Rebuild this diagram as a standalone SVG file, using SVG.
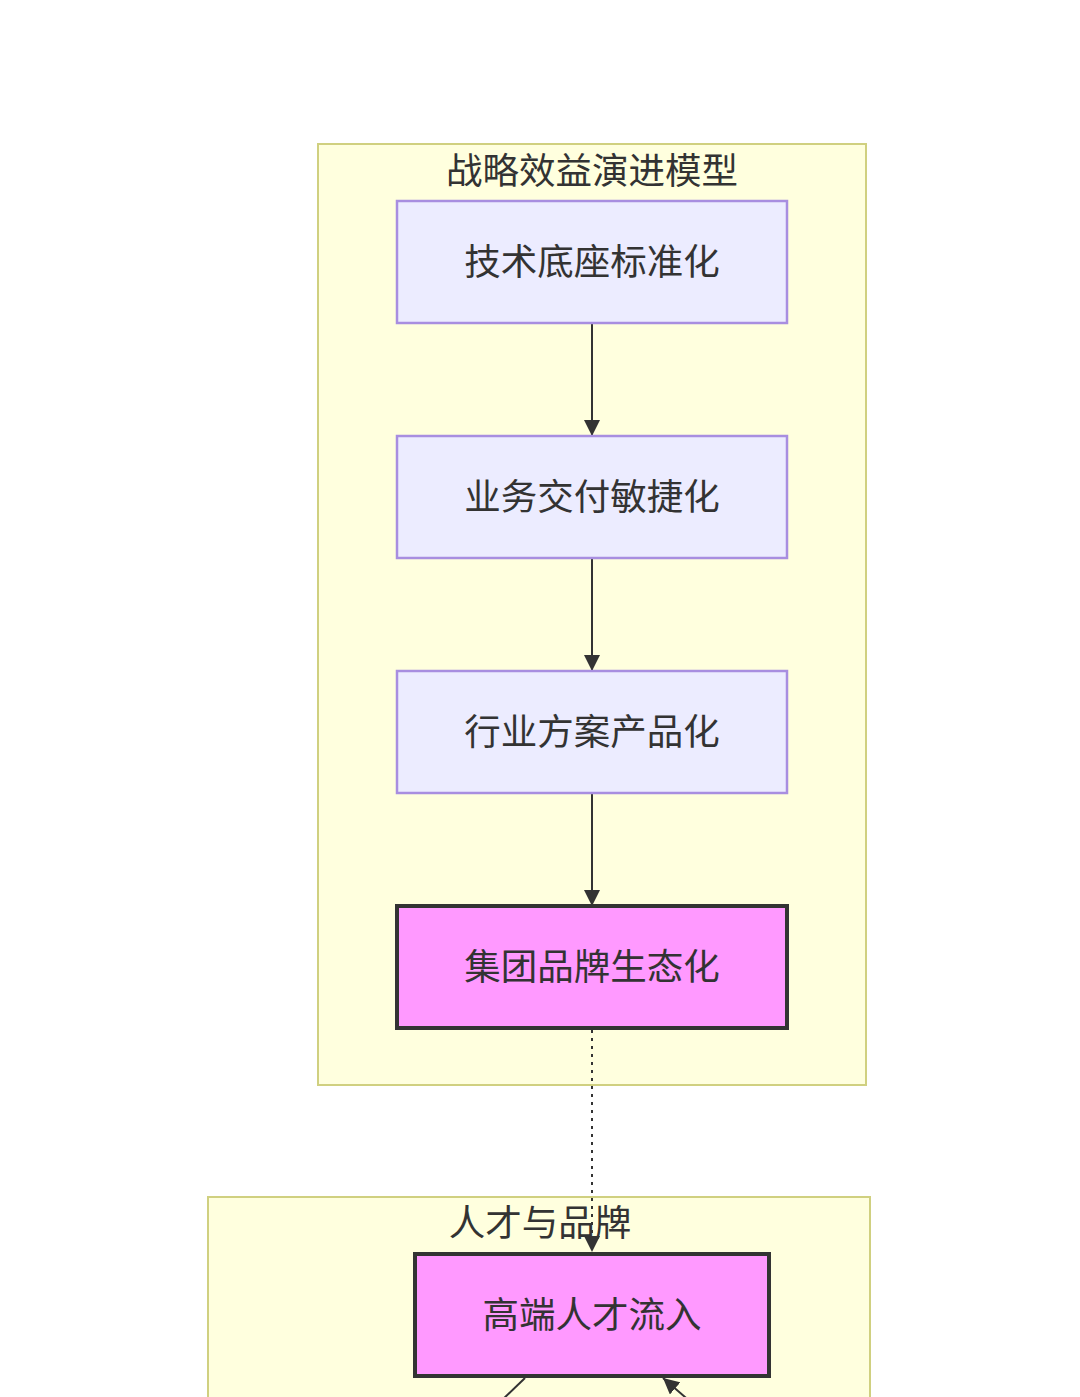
<svg xmlns="http://www.w3.org/2000/svg" width="1080" height="1397" viewBox="0 0 1080 1397">
<style>
.cluster{fill:#ffffde;stroke:#d0d080;stroke-width:2}
.node{fill:#ececff;stroke:#a88ee0;stroke-width:2.5}
.hl{fill:#ff99ff;stroke:#333333;stroke-width:4}
.lbl{font-family:"Noto Sans CJK SC","Noto Sans",sans-serif;font-size:36.5px;fill:#333333;text-anchor:middle;dominant-baseline:central}
.edge{stroke:#333333;stroke-width:2;fill:none}
.dot{stroke:#333333;stroke-width:2;fill:none;stroke-dasharray:3 5}
</style>
<defs>
<marker id="arrow" viewBox="0 0 10 10" refX="10" refY="5" markerWidth="16" markerHeight="16" markerUnits="userSpaceOnUse" orient="auto">
<path d="M0,0 L10,5 L0,10 z" fill="#333333"/>
</marker>
</defs>
<rect width="1080" height="1397" fill="#ffffff"/>
<g id="cluster-strategy">
<rect class="cluster" x="318" y="144" width="548" height="941"/>
<text class="lbl" x="592" y="168">战略效益演进模型</text>
</g>
<g id="cluster-talent">
<rect class="cluster" x="208" y="1197" width="662" height="220"/>
<text class="lbl" x="540" y="1220">人才与品牌</text>
</g>
<g id="connectors">
<line class="edge" x1="592" y1="323" x2="592" y2="436" marker-end="url(#arrow)"/>
<line class="edge" x1="592" y1="558" x2="592" y2="671" marker-end="url(#arrow)"/>
<line class="edge" x1="592" y1="793" x2="592" y2="906" marker-end="url(#arrow)"/>
<line class="dot" x1="592" y1="1030" x2="592" y2="1252" marker-end="url(#arrow)"/>
<line class="edge" x1="525" y1="1378" x2="500" y2="1402"/>
<line class="edge" x1="700" y1="1410" x2="663" y2="1378" marker-end="url(#arrow)"/>
</g>
<g id="node-tech">
<rect class="node" x="397" y="201" width="390" height="122"/>
<text class="lbl" x="592" y="259">技术底座标准化</text>
</g>
<g id="node-biz">
<rect class="node" x="397" y="436" width="390" height="122"/>
<text class="lbl" x="592" y="494">业务交付敏捷化</text>
</g>
<g id="node-industry">
<rect class="node" x="397" y="671" width="390" height="122"/>
<text class="lbl" x="592" y="729">行业方案产品化</text>
</g>
<g id="node-group">
<rect class="hl" x="397" y="906" width="390" height="122"/>
<text class="lbl" x="592" y="964">集团品牌生态化</text>
</g>
<g id="node-talent">
<rect class="hl" x="415" y="1254" width="354" height="122"/>
<text class="lbl" x="592" y="1312">高端人才流入</text>
</g>
</svg>
